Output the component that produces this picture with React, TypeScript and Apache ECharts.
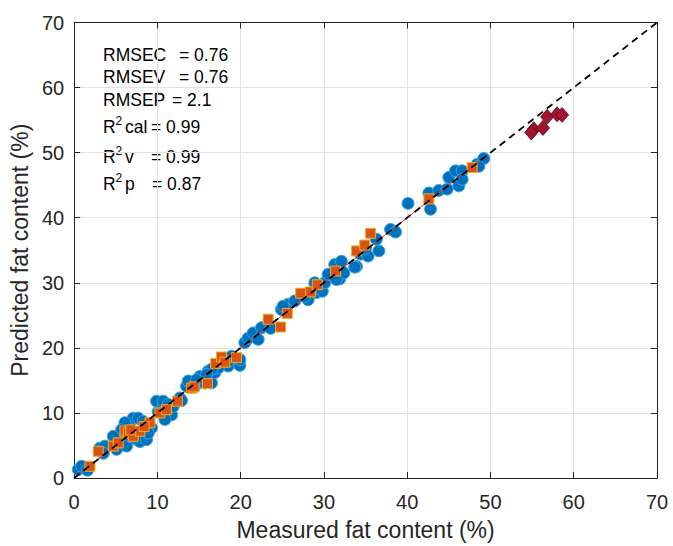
import { useEffect, useRef } from "react";
import * as echarts from "echarts";

const FONT = "'Liberation Sans', Arial, Helvetica, sans-serif";

const axisMin = 0;
const axisMax = 70;
const axisStep = 10;

// Calibration / validation samples (blue circles)
const circleMeasured = [
  0.5, 0.9, 3.1, 3.7, 3.5, 5.1, 5.7, 6.3, 6.7, 7.1, 7.7, 8.3, 6.1, 6.7, 7.5, 7.9, 8.7,
  9.9, 10.1, 10.7, 11.3, 11.7, 11.9, 10.9, 12.7, 13.5, 14.5, 15.1, 9.3, 8.9, 5.7, 4.7,
  15.7, 16.5, 13.7, 14.7, 16.1, 16.9, 18.5, 19.9, 17.3, 16.5, 15.9, 18.9, 18.5, 19.9,
  20.5, 20.9, 21.5, 22.1, 22.5, 24.9, 25.7, 26.5, 28.1, 29.1, 25.1, 27.7, 29.8, 28.9,
  30.1, 30.5, 31.9, 31.3, 32.1, 33.9, 34.4, 35.3, 36.6, 38.0, 38.6, 36.3, 32.4, 31.5,
  33.7, 40.1, 42.8, 42.6, 43.8, 44.8, 45.0, 45.8, 46.6, 46.2, 46.6, 48.4, 49.2, 48.6,
  12.9, 23.6, 1.6, 35.0,
];
const circlePredicted = [
  1.3, 1.8, 4.6, 4.9, 3.8, 4.4, 5.9, 4.9, 8.2, 9.2, 9.2, 8.7, 8.5, 6.4, 5.9, 5.6, 5.9,
  11.8, 10.2, 11.8, 11.3, 9.7, 11.0, 9.0, 12.3, 14.1, 14.1, 15.6, 7.7, 6.9, 7.4, 6.4,
  14.6, 14.6, 14.9, 15.1, 16.4, 16.2, 17.2, 17.3, 16.9, 16.7, 15.9, 18.7, 17.9, 18.2,
  20.8, 21.5, 22.3, 21.3, 23.1, 25.9, 26.7, 27.2, 27.4, 28.5, 26.4, 27.9, 28.7, 30.0,
  30.0, 31.3, 30.6, 32.8, 33.3, 32.5, 34.4, 34.1, 34.9, 38.2, 37.8, 36.7, 31.5, 30.5,
  32.4, 42.2, 41.3, 43.8, 44.2, 44.4, 46.2, 47.2, 47.2, 44.9, 45.9, 48.2, 49.1, 47.9,
  11.9, 23.0, 1.2, 35.3,
];

// Orange squares
const squareMeasured = [
  1.9, 2.9, 4.7, 5.3, 6.1, 6.5, 7.1, 7.9, 9.1, 10.3, 11.1, 12.4, 14.1, 14.4, 16.0, 17.0,
  17.7, 18.1, 19.5, 23.3, 24.8, 25.6, 27.2, 28.4, 29.2, 31.4, 33.9, 34.9, 35.6, 42.6,
  47.8, 6.8, 8.4,
];
const squarePredicted = [
  1.8, 4.1, 4.9, 5.4, 7.2, 6.9, 6.4, 7.2, 8.5, 10.0, 10.5, 11.8, 13.8, 14.0, 14.5, 17.6,
  18.6, 17.8, 18.5, 24.4, 23.2, 25.3, 28.4, 28.6, 29.7, 31.8, 34.9, 35.8, 37.6, 42.9,
  47.7, 7.4, 7.9,
];

// Red diamonds (prediction set)
const diamondMeasured = [55.2, 54.9, 56.3, 56.8, 58.0, 58.6];
const diamondPredicted = [53.6, 53.1, 53.8, 55.5, 55.9, 55.8];

// Lines
const identityLine = [
  [0, 0],
  [70, 70],
];
const fitLine = [
  [0, 0],
  [49.5, 49.5],
];

const statLines = [
  { label: "RMSEC", value: "= 0.76" },
  { label: "RMSEV", value: "= 0.76" },
  { label: "RMSEP", value: "= 2.1" },
];
const r2Lines = [
  { sub: "cal", value: "= 0.99" },
  { sub: "v", value: "= 0.99" },
  { sub: "p", value: "= 0.87" },
];

const zip = (a: number[], b: number[]) => a.map((v, i) => [v, b[i]]);

export default function App() {
  const ref = useRef<HTMLDivElement>(null);

  useEffect(() => {
    if (!ref.current) return;
    const chart = echarts.init(ref.current, undefined, { renderer: "svg" });

    const axisColor = "#262626";
    const gridColor = "#e2e2e2";

    const baseAxis = {
      type: "value" as const,
      min: axisMin,
      max: axisMax,
      interval: axisStep,
      axisLine: { show: true, onZero: false, lineStyle: { color: axisColor, width: 1 } },
      axisTick: { show: true, inside: true, length: 6, lineStyle: { color: axisColor } },
    };

    const textEls: any[] = [];
    const statX = 103;
    const statYs = [54.5, 77, 100];
    const statEqX = [179, 179, 172];
    statLines.forEach((s, i) => {
      textEls.push({
        type: "text",
        x: statX,
        y: statYs[i],
        style: { text: s.label, font: `17.5px ${FONT}`, fill: "#000", verticalAlign: "middle" },
      });
      textEls.push({
        type: "text",
        x: statEqX[i],
        y: statYs[i],
        style: { text: s.value, font: `17.5px ${FONT}`, fill: "#000", verticalAlign: "middle" },
      });
    });
    const r2Ys = [127, 157, 184];
    const r2EqX = [151, 151, 152];
    r2Lines.forEach((s, i) => {
      textEls.push({
        type: "text",
        x: statX,
        y: r2Ys[i],
        style: { text: "R", font: `17.5px ${FONT}`, fill: "#000", verticalAlign: "middle" },
      });
      textEls.push({
        type: "text",
        x: 115.5,
        y: r2Ys[i] - 6.5,
        style: { text: "2", font: `12px ${FONT}`, fill: "#000", verticalAlign: "middle" },
      });
      textEls.push({
        type: "text",
        x: 125,
        y: r2Ys[i],
        style: { text: s.sub, font: `17.5px ${FONT}`, fill: "#000", verticalAlign: "middle" },
      });
      textEls.push({
        type: "text",
        x: r2EqX[i],
        y: r2Ys[i],
        style: { text: s.value, font: `17.5px ${FONT}`, fill: "#000", verticalAlign: "middle" },
      });
    });

    chart.setOption({
      animation: false,
      backgroundColor: "#ffffff",
      textStyle: { fontFamily: FONT },
      grid: { left: 72.5, right: 16, top: 22.5, bottom: 67, containLabel: false },
      xAxis: [
        {
          ...baseAxis,
          position: "bottom",
          splitLine: { show: true, lineStyle: { color: gridColor, width: 1 } },
          axisLabel: { fontSize: 20, color: axisColor, margin: 14, fontFamily: FONT },
          name: "Measured fat content (%)",
          nameLocation: "middle",
          nameGap: 40,
          nameTextStyle: { fontSize: 23, color: axisColor, fontFamily: FONT },
        },
        {
          ...baseAxis,
          position: "top",
          splitLine: { show: false },
          axisLabel: { show: false },
        },
      ],
      yAxis: [
        {
          ...baseAxis,
          position: "left",
          splitLine: { show: true, lineStyle: { color: gridColor, width: 1 } },
          axisLabel: { fontSize: 20, color: axisColor, margin: 10, fontFamily: FONT },
          name: "Predicted fat content (%)",
          nameLocation: "middle",
          nameGap: 40,
          nameTextStyle: { fontSize: 23, color: axisColor, fontFamily: FONT },
        },
        {
          ...baseAxis,
          position: "right",
          splitLine: { show: false },
          axisLabel: { show: false },
        },
      ],
      series: [
        {
          type: "scatter",
          name: "Calibration",
          data: zip(circleMeasured, circlePredicted),
          symbol: "circle",
          symbolSize: 12,
          itemStyle: { color: "#0072BD", borderColor: "#3FA3E0", borderWidth: 1, opacity: 1 },
          z: 2,
        },
        {
          type: "scatter",
          name: "Validation",
          data: zip(squareMeasured, squarePredicted),
          symbol: "rect",
          symbolSize: 10,
          itemStyle: { color: "#D95319", borderColor: "#EDB120", borderWidth: 1, opacity: 1 },
          z: 3,
        },
        {
          type: "scatter",
          name: "Prediction",
          data: zip(diamondMeasured, diamondPredicted),
          symbol: "diamond",
          symbolSize: [13, 15],
          itemStyle: { color: "#A2142F", borderColor: "#4a0812", borderWidth: 0.8, opacity: 1 },
          z: 4,
        },
        {
          type: "line",
          name: "Fit",
          data: fitLine,
          symbol: "none",
          lineStyle: { color: "#ff2a2a", width: 1 },
          z: 5,
        },
        {
          type: "line",
          name: "1:1",
          data: identityLine,
          symbol: "none",
          lineStyle: { color: "#000000", width: 1.8, type: [7, 5] },
          z: 6,
        },
      ],
      graphic: { elements: textEls },
    });

    return () => chart.dispose();
  }, []);

  return (
    <div
      ref={ref}
      style={{ position: "fixed", left: 0, top: 0, width: 673, height: 546 }}
    />
  );
}
